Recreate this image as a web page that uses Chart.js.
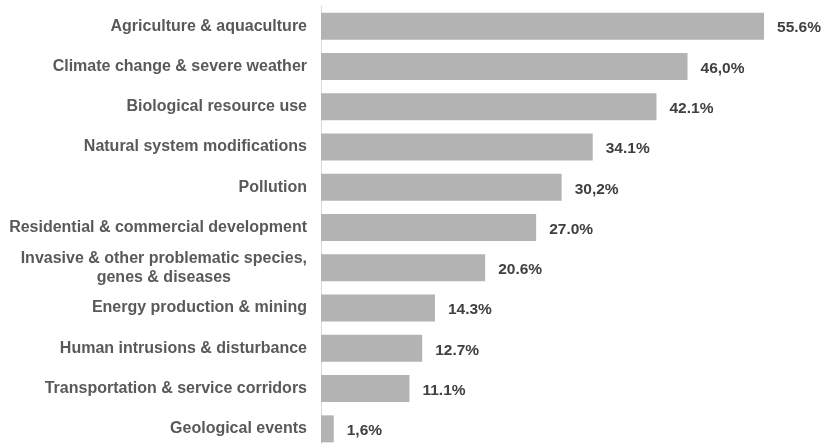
<!DOCTYPE html>
<html>
<head>
<meta charset="utf-8">
<script src="https://cdn.jsdelivr.net/npm/chart.js@4/dist/chart.umd.min.js"></script>
<style>
html,body{margin:0;padding:0;background:#fff;overflow:hidden;}
#wrap{width:823px;height:450px;position:relative;}
</style>
</head>
<body>
<div id="wrap"><canvas id="c"></canvas></div>
<script>
const categories = [
  "Agriculture & aquaculture",
  "Climate change & severe weather",
  "Biological resource use",
  "Natural system modifications",
  "Pollution",
  "Residential & commercial development",
  ["Invasive & other problematic species,", "genes & diseases"],
  "Energy production & mining",
  "Human intrusions & disturbance",
  "Transportation & service corridors",
  "Geological events"
];
const values = [55.6, 46.0, 42.1, 34.1, 30.2, 27.0, 20.6, 14.3, 12.7, 11.1, 1.6];
const valueLabels = ["55.6%", "46,0%", "42.1%", "34.1%", "30,2%", "27.0%", "20.6%", "14.3%", "12.7%", "11.1%", "1,6%"];

const FONT = '"Liberation Sans", Arial, sans-serif';
const TICK_COLOR = '#595959';
const TICK_PAD = 6;
const LINE_H = 1.2;
const TICK_SIZE = 16;

const labelPlugin = {
  id: 'barLabels',
  afterDatasetsDraw(chart) {
    const ctx = chart.ctx;
    const meta = chart.getDatasetMeta(0);
    ctx.save();
    ctx.font = 'bold 15.5px ' + FONT;
    ctx.fillStyle = '#404040';
    ctx.textAlign = 'left';
    ctx.textBaseline = 'middle';
    meta.data.forEach((el, i) => {
      ctx.fillText(valueLabels[i], el.x + 13, el.y + 2);
    });
    ctx.restore();
  },
  afterDraw(chart) {
    // multi-line category labels are drawn centred on their widest line
    const ctx = chart.ctx;
    const y = chart.scales.y;
    const rightEdge = y.right - TICK_PAD - 8;
    ctx.save();
    ctx.font = 'bold ' + TICK_SIZE + 'px ' + FONT;
    ctx.fillStyle = TICK_COLOR;
    ctx.textAlign = 'center';
    ctx.textBaseline = 'middle';
    categories.forEach((lab, i) => {
      if (!Array.isArray(lab)) return;
      const w = Math.max(...lab.map(s => ctx.measureText(s).width));
      const cx = rightEdge - w / 2;
      const cy = y.getPixelForTick(i);
      const lh = TICK_SIZE * LINE_H;
      lab.forEach((s, k) => {
        ctx.fillText(s, cx, cy + (k - (lab.length - 1) / 2) * lh);
      });
    });
    ctx.restore();
  }
};

new Chart(document.getElementById('c'), {
  type: 'bar',
  data: {
    labels: categories,
    datasets: [{
      data: values,
      backgroundColor: '#b3b3b3',
      borderWidth: 0,
      categoryPercentage: 0.67,
      barPercentage: 1.0
    }]
  },
  options: {
    indexAxis: 'y',
    responsive: true,
    maintainAspectRatio: false,
    animation: false,
    layout: { padding: { top: 6, bottom: 1, left: 0, right: 0 } },
    plugins: { legend: { display: false }, tooltip: { enabled: false } },
    scales: {
      x: {
        display: false,
        min: 0,
        max: 63
      },
      y: {
        grid: { display: false },
        border: { display: true, color: '#d9d9d9', width: 1 },
        ticks: {
          color: (c) => Array.isArray(categories[c.index]) ? 'rgba(0,0,0,0)' : TICK_COLOR,
          padding: TICK_PAD,
          autoSkip: false,
          font: { family: FONT, size: TICK_SIZE, weight: 'bold', lineHeight: LINE_H }
        },
        afterFit(scale) {
          scale.width = 321;
          scale.paddingTop = 0;
          scale.paddingBottom = 0;
        }
      }
    }
  },
  plugins: [labelPlugin]
});
</script>
</body>
</html>
